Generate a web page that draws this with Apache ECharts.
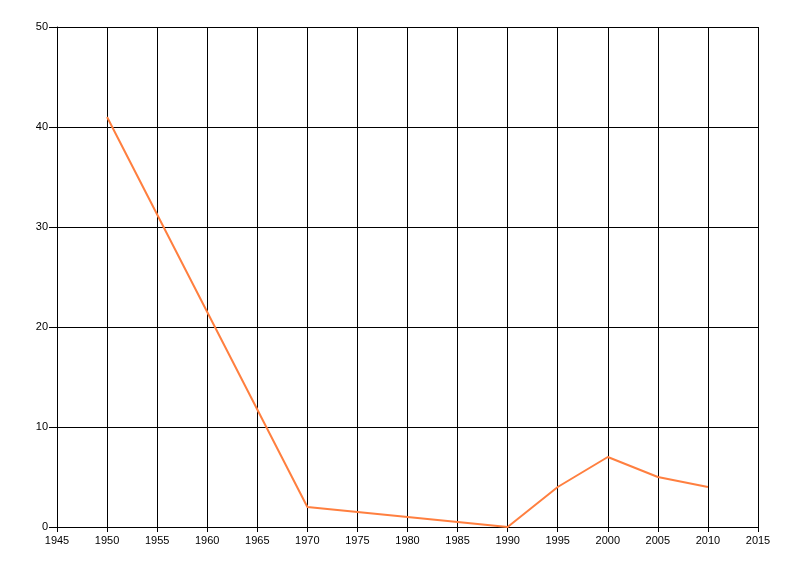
<!DOCTYPE html>
<html>
<head>
<meta charset="utf-8">
<script src="https://cdn.jsdelivr.net/npm/echarts@6/dist/echarts.min.js"></script>
<style>html,body{margin:0;padding:0;background:#fff}#c{width:800px;height:576px}</style>
</head>
<body>
<div id="c"></div>
<script>
const years = [1950, 1970, 1990, 1995, 2000, 2005, 2010];
const values = [41, 2, 0, 4, 7, 5, 4];

const chart = echarts.init(document.getElementById('c'), null, {renderer: 'canvas'});
const font = {fontFamily: '"Liberation Sans", Arial, sans-serif', fontSize: 11, color: '#000'};
chart.setOption({
  animation: false,
  backgroundColor: '#fff',
  grid: {left: 57, right: 42, top: 27, bottom: 49, containLabel: false},
  xAxis: {
    type: 'value', min: 1945, max: 2015, interval: 5,
    axisLine: {show: true, lineStyle: {color: '#000', width: 1}},
    axisTick: {show: true, length: 5, lineStyle: {color: '#000'}},
    axisLabel: Object.assign({margin: 8, formatter: v => String(v)}, font),
    splitLine: {show: true, lineStyle: {color: '#000', width: 1}}
  },
  yAxis: {
    type: 'value', min: 0, max: 50, interval: 10,
    axisLine: {show: true, lineStyle: {color: '#000', width: 1}},
    axisTick: {show: true, length: 8, lineStyle: {color: '#000'}},
    axisLabel: Object.assign({margin: 9}, font),
    splitLine: {show: true, lineStyle: {color: '#000', width: 1}}
  },
  series: [{
    type: 'line',
    data: years.map((y, i) => [y, values[i]]),
    showSymbol: false,
    lineStyle: {color: '#FF7F3F', width: 2},
    itemStyle: {color: '#FF7F3F'}
  }]
});
</script>
</body>
</html>
